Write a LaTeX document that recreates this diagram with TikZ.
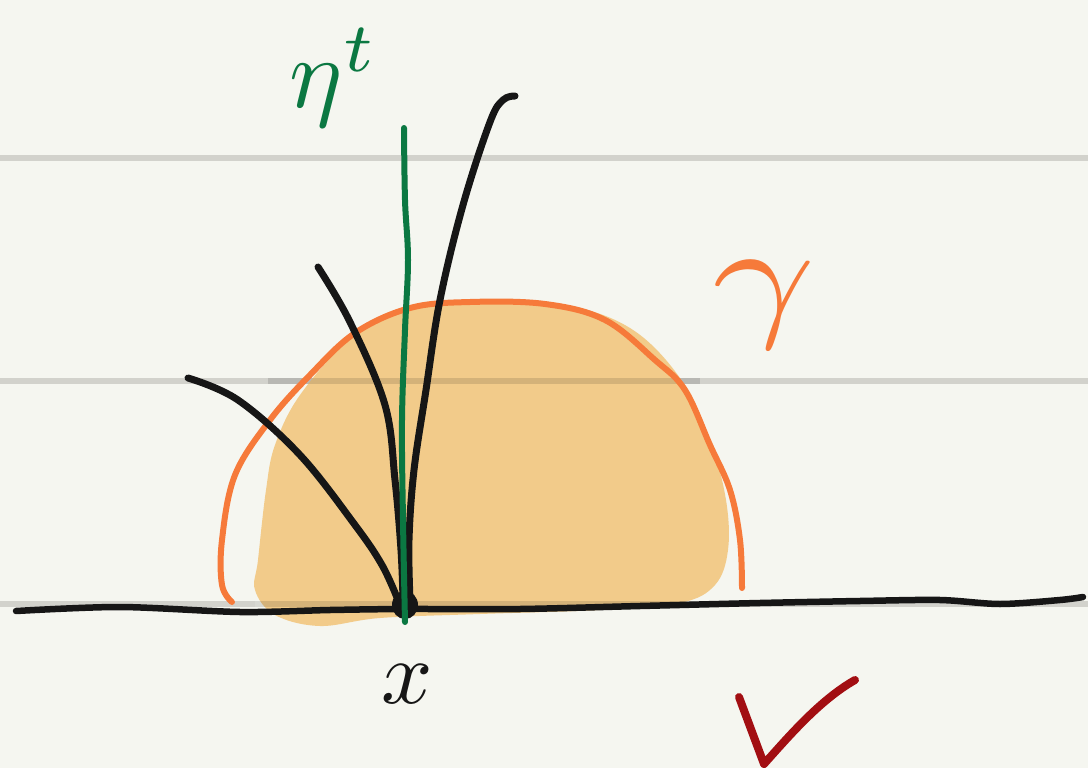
\documentclass[tikz,border=0pt]{standalone}
\usepackage{fontspec}
\begin{document}
\begin{tikzpicture}[x=1pt,y=-1pt,
  pen/.style={line width=7pt,line cap=round,line join=round},
  rule/.style={line width=6pt,draw=ruleg},
  lbl/.style={inner sep=0pt}]
\definecolor{bg}{HTML}{F5F6F0}
\definecolor{ruleg}{HTML}{D2D2CC}
\definecolor{blobfill}{HTML}{F2CB8A}
\definecolor{orangeline}{HTML}{F67A3A}
\definecolor{pengreen}{HTML}{0B7842}
\definecolor{penblack}{HTML}{161616}
\definecolor{penred}{HTML}{A20E12}
\fill[bg] (0,0) rectangle (1088,768);
\useasboundingbox (0,0) rectangle (1088,768);
% rule lines
\draw[rule] (0,158) -- (1088,158);
\draw[rule] (0,381) -- (1088,381);
% blob
\fill[blobfill] plot[smooth cycle,tension=0.6] coordinates {
 (258,560) (266,490) (275,445) (300,395) (350,340) (410,310) (470,302)
 (560,304) (630,328) (680,378) (710,440) (726,500) (728,550) (715,585)
 (680,603) (600,610) (480,614) (380,618) (320,626) (275,615) (255,590)};
\draw[rule,draw=black,opacity=0.12] (255,604) -- (728,604);
\draw[rule,draw=black,opacity=0.12] (268,381) -- (700,381);
\draw[rule] (0,604) -- (255,604);
\draw[rule] (728,604) -- (1088,604);
% orange outline
\draw[pen,orangeline,line width=6pt] plot[smooth,tension=0.6] coordinates {
 (232,602) (222,585) (222,540) (235,475) (270,420) (310,375) (355,333)
 (410,308) (470,302) (545,304) (605,320) (655,360) (685,390) (710,445)
 (730,490) (740,540) (742,588)};
% horizontal axis
\draw[pen,penblack,line width=6.5pt] plot[smooth,tension=0.5] coordinates {
 (16,611) (120,607) (240,612) (330,610) (405,609) (520,609) (640,606)
 (760,603) (860,601) (940,600) (1000,604) (1060,600) (1083,597)};
% rays
\coordinate (x0) at (405,605);
\draw[pen,penblack] plot[smooth,tension=0.6] coordinates {
 (188,378) (238,400) (300,455) (355,525) (382,565) (398,600)};
\draw[pen,penblack] plot[smooth,tension=0.6] coordinates {
 (318,267) (350,322) (385,405) (395,480) (401,550) (403,600)};
\draw[pen,penblack] plot[smooth,tension=0.6] coordinates {
 (515,96) (503,100) (490,122) (463,205) (440,300) (426,390)
 (414,470) (409,540) (410,600)};
\fill[penblack] (x0) ellipse (13pt and 14pt);
% green line
\draw[pen,pengreen,line width=6pt] plot[smooth,tension=0.6] coordinates {
 (404,128) (405,200) (408,260) (405,330) (402,420) (403,520) (405,622)};
% labels
\node[lbl,text=pengreen,scale=10] (eta) at (334,78) {$\eta^{t}$};
\node[lbl,text=penblack,scale=9] (xl) at (407,684) {$x$};
\node[lbl,text=orangeline,xscale=18,yscale=14] (gam) at (764,305) {$\gamma$};
% checkmark
\draw[pen,penred,line width=8pt] (739,697) -- (764,764) .. controls (790,735) and (820,700) .. (855,680);
\end{tikzpicture}
\end{document}
